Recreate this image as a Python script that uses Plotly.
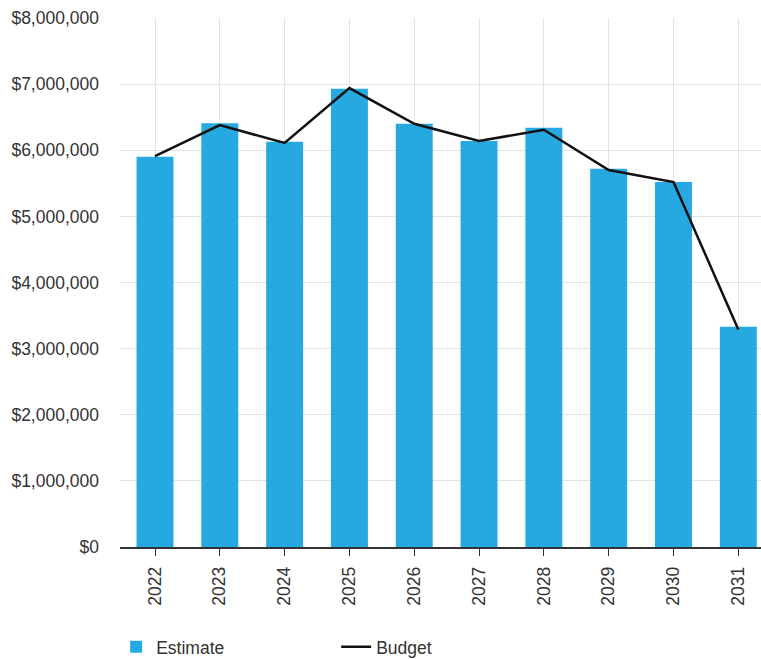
import plotly.graph_objects as go

years = ["2022", "2023", "2024", "2025", "2026", "2027", "2028", "2029", "2030", "2031"]
estimate = [5900000, 6410000, 6130000, 6930000, 6400000, 6140000, 6340000, 5720000, 5520000, 3330000]
budget = [5910000, 6380000, 6110000, 6940000, 6400000, 6140000, 6310000, 5700000, 5520000, 3290000]

fig = go.Figure()
fig.add_trace(go.Bar(
    x=years, y=estimate, name="Estimate",
    marker=dict(color="#25A9E0", line=dict(width=0)),
    width=0.57,
))
fig.add_trace(go.Scatter(
    x=years, y=budget, name="Budget", mode="lines",
    line=dict(color="#111111", width=2.5),
))

font = dict(family="Liberation Sans, Arial, sans-serif", size=17.5, color="#333333")
fig.update_layout(
    width=761, height=659,
    margin=dict(l=120, r=0, t=18, b=112, autoexpand=False),
    plot_bgcolor="white", paper_bgcolor="white",
    font=font,
    showlegend=True,
    legend=dict(orientation="h", x=-0.006, xanchor="left",
                y=-0.155, yanchor="top",
                entrywidth=175, entrywidthmode="pixels", font=font,
                traceorder="normal"),
    xaxis=dict(
        type="category", range=[-0.54, 9.35], automargin=False,
        tickangle=-90, showgrid=True, gridcolor="#e3e3e3",
        showline=True, linecolor="#333333", linewidth=1.5,
        ticks="outside", ticklen=7, tickcolor="#333333",
        ticklabelstandoff=4, tickfont=font,
    ),
    yaxis=dict(
        range=[0, 8000000], dtick=1000000, tickprefix="$", tickformat=",",
        showgrid=True, gridcolor="#e3e3e3", zeroline=False, automargin=False,
        showline=False, ticklabelstandoff=20, tickfont=font,
    ),
)
fig.write_html("out.html")
